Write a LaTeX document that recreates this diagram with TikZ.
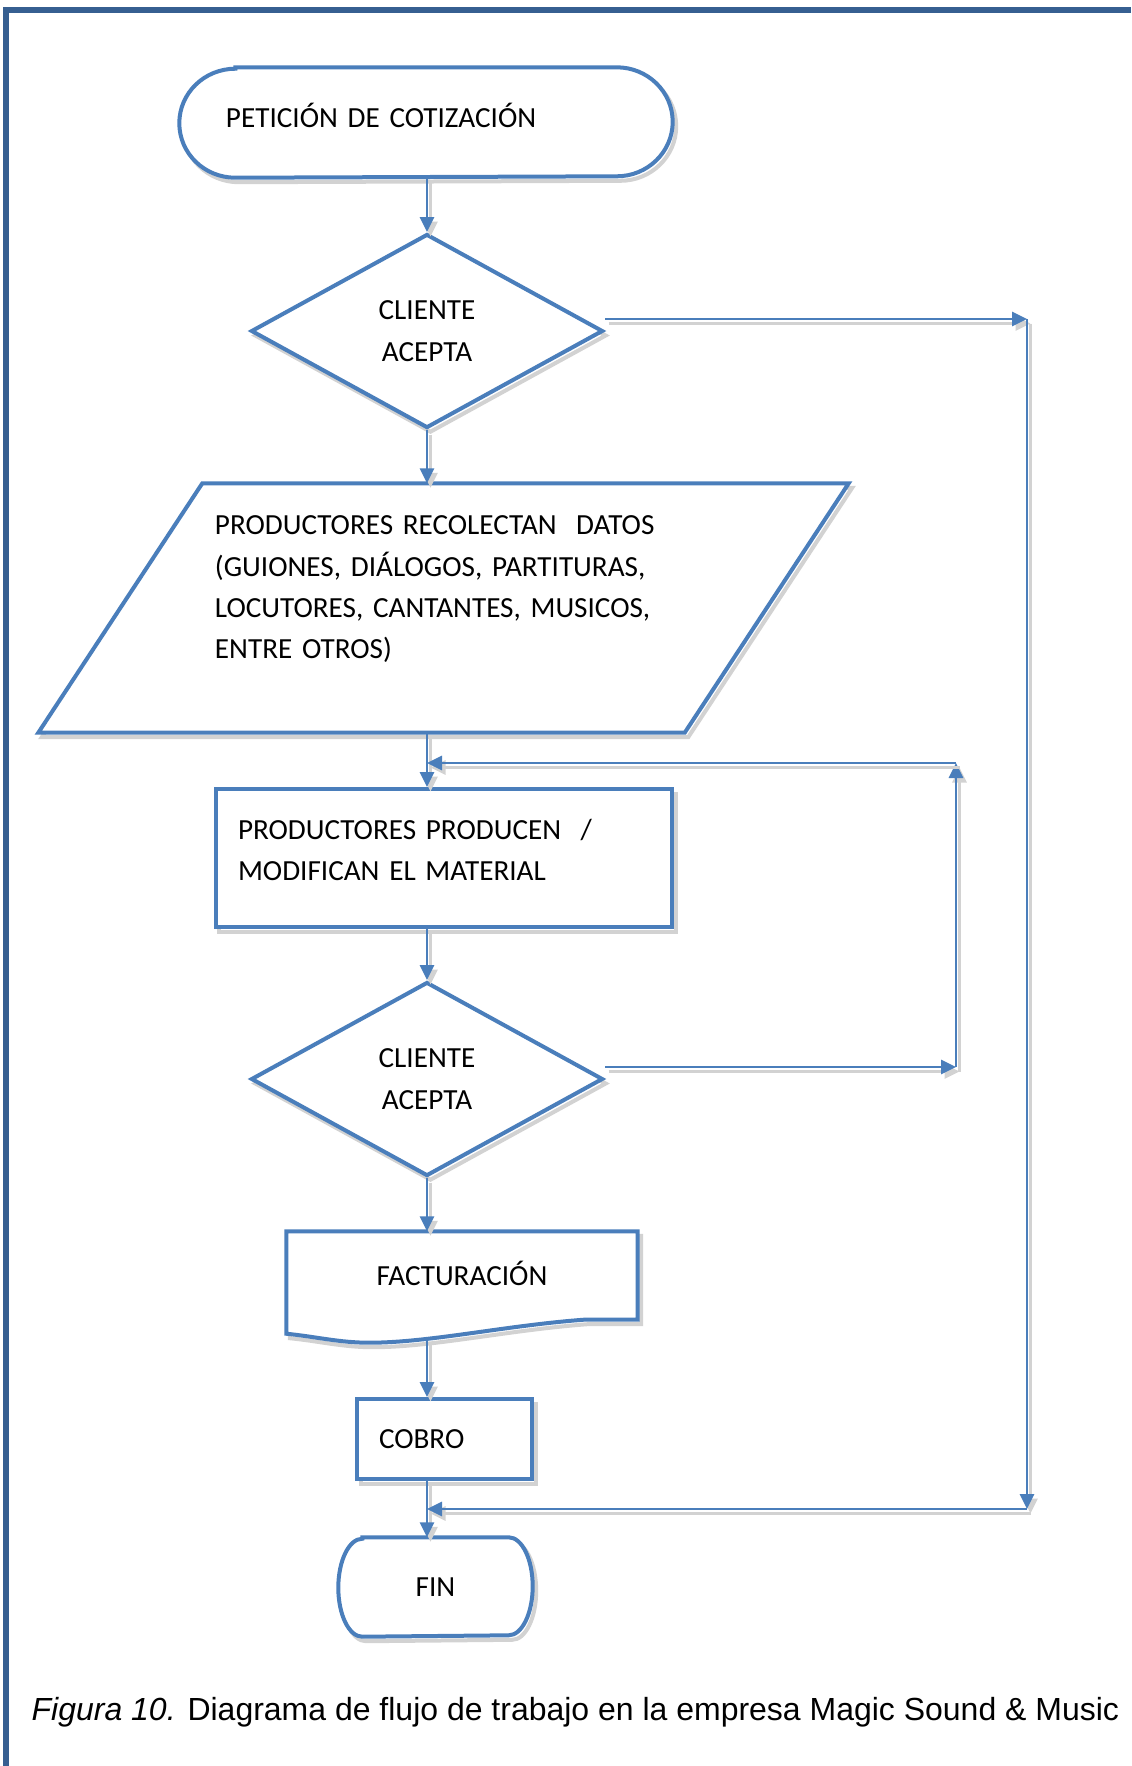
\documentclass[tikz,border=0pt]{standalone}
\usepackage{fontspec}
\setmainfont{Carlito}
\newfontfamily\capfont{Liberation Sans}
\usetikzlibrary{shapes.geometric,arrows.meta,calc,backgrounds}
\definecolor{flowblue}{RGB}{74,126,187}
\definecolor{frameblue}{RGB}{54,95,145}
\definecolor{shadegray}{RGB}{210,210,210}
\begin{document}
\begin{tikzpicture}[x=1mm,y=-1mm,
  ghost/.style={preaction={draw=shadegray,transform canvas={shift={(0.35mm,-0.45mm)}},#1}},
  txt/.style={font=\fontsize{8.3}{11.8}\selectfont,inner sep=0pt},
  outline/.style={ghost={line width=0.4mm},draw=flowblue,fill=white,line width=0.4mm},
  box/.style={txt,outline},
  ask/.style={box,diamond,minimum width=35.2mm,minimum height=19.4mm,align=center},
  conn/.style={ghost={line width=0.28mm,-{Triangle[length=1.5mm,width=1.4mm]}},draw=flowblue,line width=0.28mm,-{Triangle[length=1.5mm,width=1.4mm]}}]
\useasboundingbox (0,0) rectangle (113.1,176.6);
\draw[frameblue,line width=0.6mm] (0.65,176.6) -- (0.65,0.95) -- (113.1,0.95);
\node (pet) [txt,minimum width=49.2mm,minimum height=10.9mm,text width=40mm,text depth=1.4mm,align=left] at (42.6,12.25) {PETICIÓN DE COTIZACIÓN};
\node (dA) [ask] at (42.7,33.1) {CLIENTE\\ACEPTA};
\node (datos) [txt,minimum width=80.9mm,minimum height=24.8mm,text width=45.7mm,align=left] at (44.35,60.8)
  {PRODUCTORES RECOLECTAN\ \ DATOS\\(GUIONES, DIÁLOGOS, PARTITURAS,\\LOCUTORES, CANTANTES, MUSICOS,\\ENTRE OTROS)\\\mbox{}};
\node (prod) [box,rectangle,minimum width=45.6mm,minimum height=13.8mm,text width=41.2mm,align=left] at (44.4,85.8) {PRODUCTORES PRODUCEN\ \ /\\MODIFICAN EL MATERIAL\\[-2.5mm]\mbox{}};
\node (dB) [ask] at (42.7,107.9) {CLIENTE\\ACEPTA};
\node (fact) [txt,minimum width=35mm,minimum height=8.2mm] at (46.2,127.3) {FACTURACIÓN};
\node (cobro) [box,minimum width=17.5mm,minimum height=8mm,text width=13.1mm,align=left] at (44.45,143.9) {COBRO};
\node (fin) [txt,minimum width=19.3mm,minimum height=9.8mm] at (43.55,158.7) {FIN};
\begin{scope}[on background layer]
\draw[outline] ([xshift=5.6mm]pet.north west) -- ([xshift=-5.6mm]pet.north east) arc[start angle=90,end angle=-90,x radius=5.6mm,y radius=5.45mm]
  -- ([xshift=5.6mm]pet.south west) arc[start angle=270,end angle=90,x radius=5.6mm,y radius=5.45mm] -- cycle;
\draw[outline] ([xshift=16.4mm]datos.north west) -- (datos.north east) -- ([xshift=-16.4mm]datos.south east) -- (datos.south west) -- cycle;
\draw[outline] ([xshift=2.4mm]fin.north west) -- ([xshift=-2.4mm]fin.north east) arc[start angle=90,end angle=-90,x radius=2.4mm,y radius=4.9mm]
  -- ([xshift=2.4mm]fin.south west) arc[start angle=270,end angle=90,x radius=2.4mm,y radius=4.9mm] -- cycle;
\draw[outline] (fact.north west) -- (fact.north east) -- ([yshift=-0.5mm]fact.south east) -- ++(-5.4,0)
  .. controls +(-8,0.6) and +(6,0) .. ([xshift=8.3mm,yshift=-2.8mm]fact.south west)
  .. controls +(-3,0) and +(3,0.3) .. ([yshift=-1.9mm]fact.south west) -- cycle;
\end{scope}
\coordinate (skip1) at (102.7,31.9);
\coordinate (skip2) at (102.7,150.9);
\coordinate (back1) at (95.6,106.7);
\coordinate (back2) at (95.6,76.3);
\draw[conn] (pet.south -| dA.north) -- (dA.north);
\draw[conn] (dA.south) -- (dA.south |- datos.north);
\draw[conn] (dA.south |- datos.south) -- (dA.south |- prod.north);
\draw[conn] (prod.south -| dB.north) -- (dB.north);
\draw[conn] (dB.south) -- (dB.south |- fact.north);
\draw[conn] ($(dB.south |- fact.south)+(0,2.6)$) -- (dB.south |- cobro.north);
\draw[conn] (cobro.south -| dB.south) -- (dB.south |- fin.north);
\draw[conn] (dA.east |- skip1) -- (skip1);
\draw[conn] (skip1) -- (skip2);
\draw[conn] (skip2) -- (dB.south |- skip2);
\draw[conn] (dB.east |- back1) -- (back1);
\draw[conn] (back1) -- (back2);
\draw[conn] (back2) -- (dB.north |- back2);
\node (cap) [anchor=base west,inner sep=0pt,font=\capfont\fontsize{9.1}{11}\selectfont] at (3.1,172.0) {\textit{Figura 10.} Diagrama de flujo de trabajo en la empresa Magic Sound \& Music};
\end{tikzpicture}
\end{document}
